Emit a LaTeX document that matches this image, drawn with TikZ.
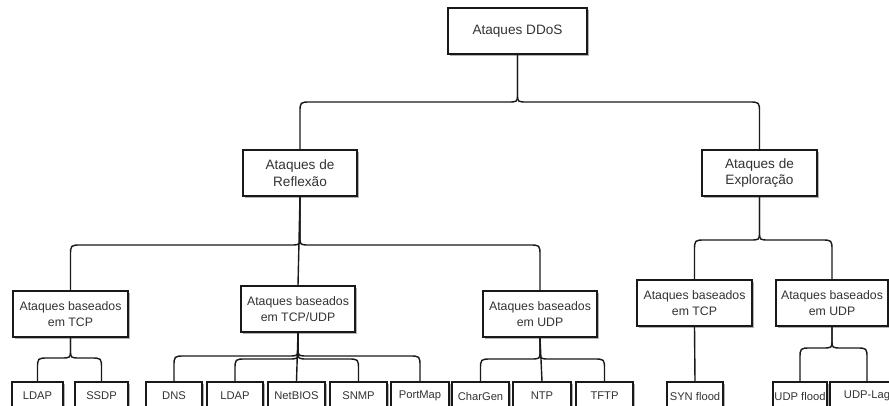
\documentclass[tikz,border=0pt]{standalone}
\usepackage{fontspec}
\setmainfont{Liberation Sans}
\usetikzlibrary{shadows,calc}
\tikzset{
  box/.style={draw=black!90, line width=1.1pt, fill=white, inner sep=0pt, align=center,
    text=black!80,
    drop shadow={shadow xshift=2pt, shadow yshift=-2pt, fill=black, opacity=0.3}},
  fa/.style={font=\fontsize{13.6}{16.5}\selectfont},
  fb/.style={font=\fontsize{12.3}{15.5}\selectfont},
  fc/.style={font=\fontsize{11.2}{13}\selectfont},
  conn/.style={draw=black!90, line width=1.4pt},
}
% brace arm to a child on the left / right, #3 = y of horizontal arm
\newcommand\brl[3]{\draw[conn] let \p1=(#1.south), \p2=(#2.north), \p3=(0,#3) in
  (\p1) -- (\x1,\y3+8pt) .. controls (\x1,\y3) .. (\x1-10pt,\y3) -- (\x2+11pt,\y3)
  .. controls (\x2,\y3) .. (\x2,\y3-11pt) -- (\p2);}
\newcommand\brr[3]{\draw[conn] let \p1=(#1.south), \p2=(#2.north), \p3=(0,#3) in
  (\p1) -- (\x1,\y3+8pt) .. controls (\x1,\y3) .. (\x1+10pt,\y3) -- (\x2-11pt,\y3)
  .. controls (\x2,\y3) .. (\x2,\y3-11pt) -- (\p2);}
\begin{document}
\begin{tikzpicture}[x=1pt,y=-1pt]
\useasboundingbox (0,0) rectangle (889,405);
\fill[white] (0,0) rectangle (889,405);
\clip (0,0) rectangle (889,405);
% level 1
\node[box,fa,minimum width=139pt,minimum height=46pt] (root) at (517.5,31) {Ataques DDoS};
% level 2
\node[box,fa,minimum width=114pt,minimum height=46pt] (refl) at (300,173) {Ataques de\\Reflexão};
\node[box,fa,minimum width=115pt,minimum height=46pt] (expl) at (759.5,173) {Ataques de\\Exploração};
% level 3
\node[box,fb,minimum width=115pt,minimum height=46pt] (rtcp) at (70.5,314) {Ataques baseados\\em TCP};
\node[box,fb,minimum width=114pt,minimum height=46pt] (rtu) at (298,309) {Ataques baseados\\em TCP/UDP};
\node[box,fb,minimum width=114pt,minimum height=46pt] (rudp) at (540,314) {Ataques baseados\\em UDP};
\node[box,fb,minimum width=115pt,minimum height=46pt] (etcp) at (694.5,303) {Ataques baseados\\em TCP};
\node[box,fb,minimum width=112pt,minimum height=46pt] (eudp) at (832,303) {Ataques baseados\\em UDP};
% level 4
\node[box,fc,minimum width=51pt,minimum height=28pt] (ldapa) at (37.5,396) {LDAP};
\node[box,fc,minimum width=53pt,minimum height=28pt] (ssdp) at (101.5,396) {SSDP};
\node[box,fc,minimum width=56pt,minimum height=28pt] (dns) at (174,396) {DNS};
\node[box,fc,minimum width=56pt,minimum height=28pt] (ldapb) at (235,396) {LDAP};
\node[box,fc,minimum width=57pt,minimum height=28pt] (netbios) at (296.5,396) {NetBIOS};
\node[box,fc,minimum width=57pt,minimum height=28pt] (snmp) at (358.5,396) {SNMP};
\node[box,fc,minimum width=58pt,minimum height=28pt] (portmap) at (420,396) {PortMap};
\node[box,fc,minimum width=57pt,minimum height=28pt] (chargen) at (480.5,396) {CharGen};
\node[box,fc,minimum width=58pt,minimum height=28pt] (ntp) at (542,396) {NTP};
\node[box,fc,minimum width=57pt,minimum height=28pt] (tftp) at (604.5,396) {TFTP};
\node[box,fc,minimum width=56pt,minimum height=28pt] (syn) at (695,396) {SYN flood};
\node[box,fc,minimum width=54pt,minimum height=28pt] (udpf) at (800,396) {UDP flood};
\node[box,fc,minimum width=74pt,minimum height=28pt] (udpl) at (867,396) {UDP-Lag};
% connectors
\brl{root}{refl}{102}
\brr{root}{expl}{102}
\brl{refl}{rtcp}{245}
\draw[conn] (refl.south) -- (rtu.north);
\brr{refl}{rudp}{245}
\brl{expl}{etcp}{240}
\brr{expl}{eudp}{240}
\brl{rtcp}{ldapa}{358}
\brr{rtcp}{ssdp}{358}
\brl{rtu}{dns}{356}
\brl{rtu}{ldapb}{359}
\draw[conn] (rtu.south) -- (netbios.north);
\brr{rtu}{snmp}{359}
\brr{rtu}{portmap}{356}
\brl{rudp}{chargen}{359}
\draw[conn] (rudp.south) -- (ntp.north);
\brr{rudp}{tftp}{359}
\draw[conn] (etcp.south) -- (syn.north);
\brl{eudp}{udpf}{348}
\brr{eudp}{udpl}{348}
\end{tikzpicture}
\end{document}
